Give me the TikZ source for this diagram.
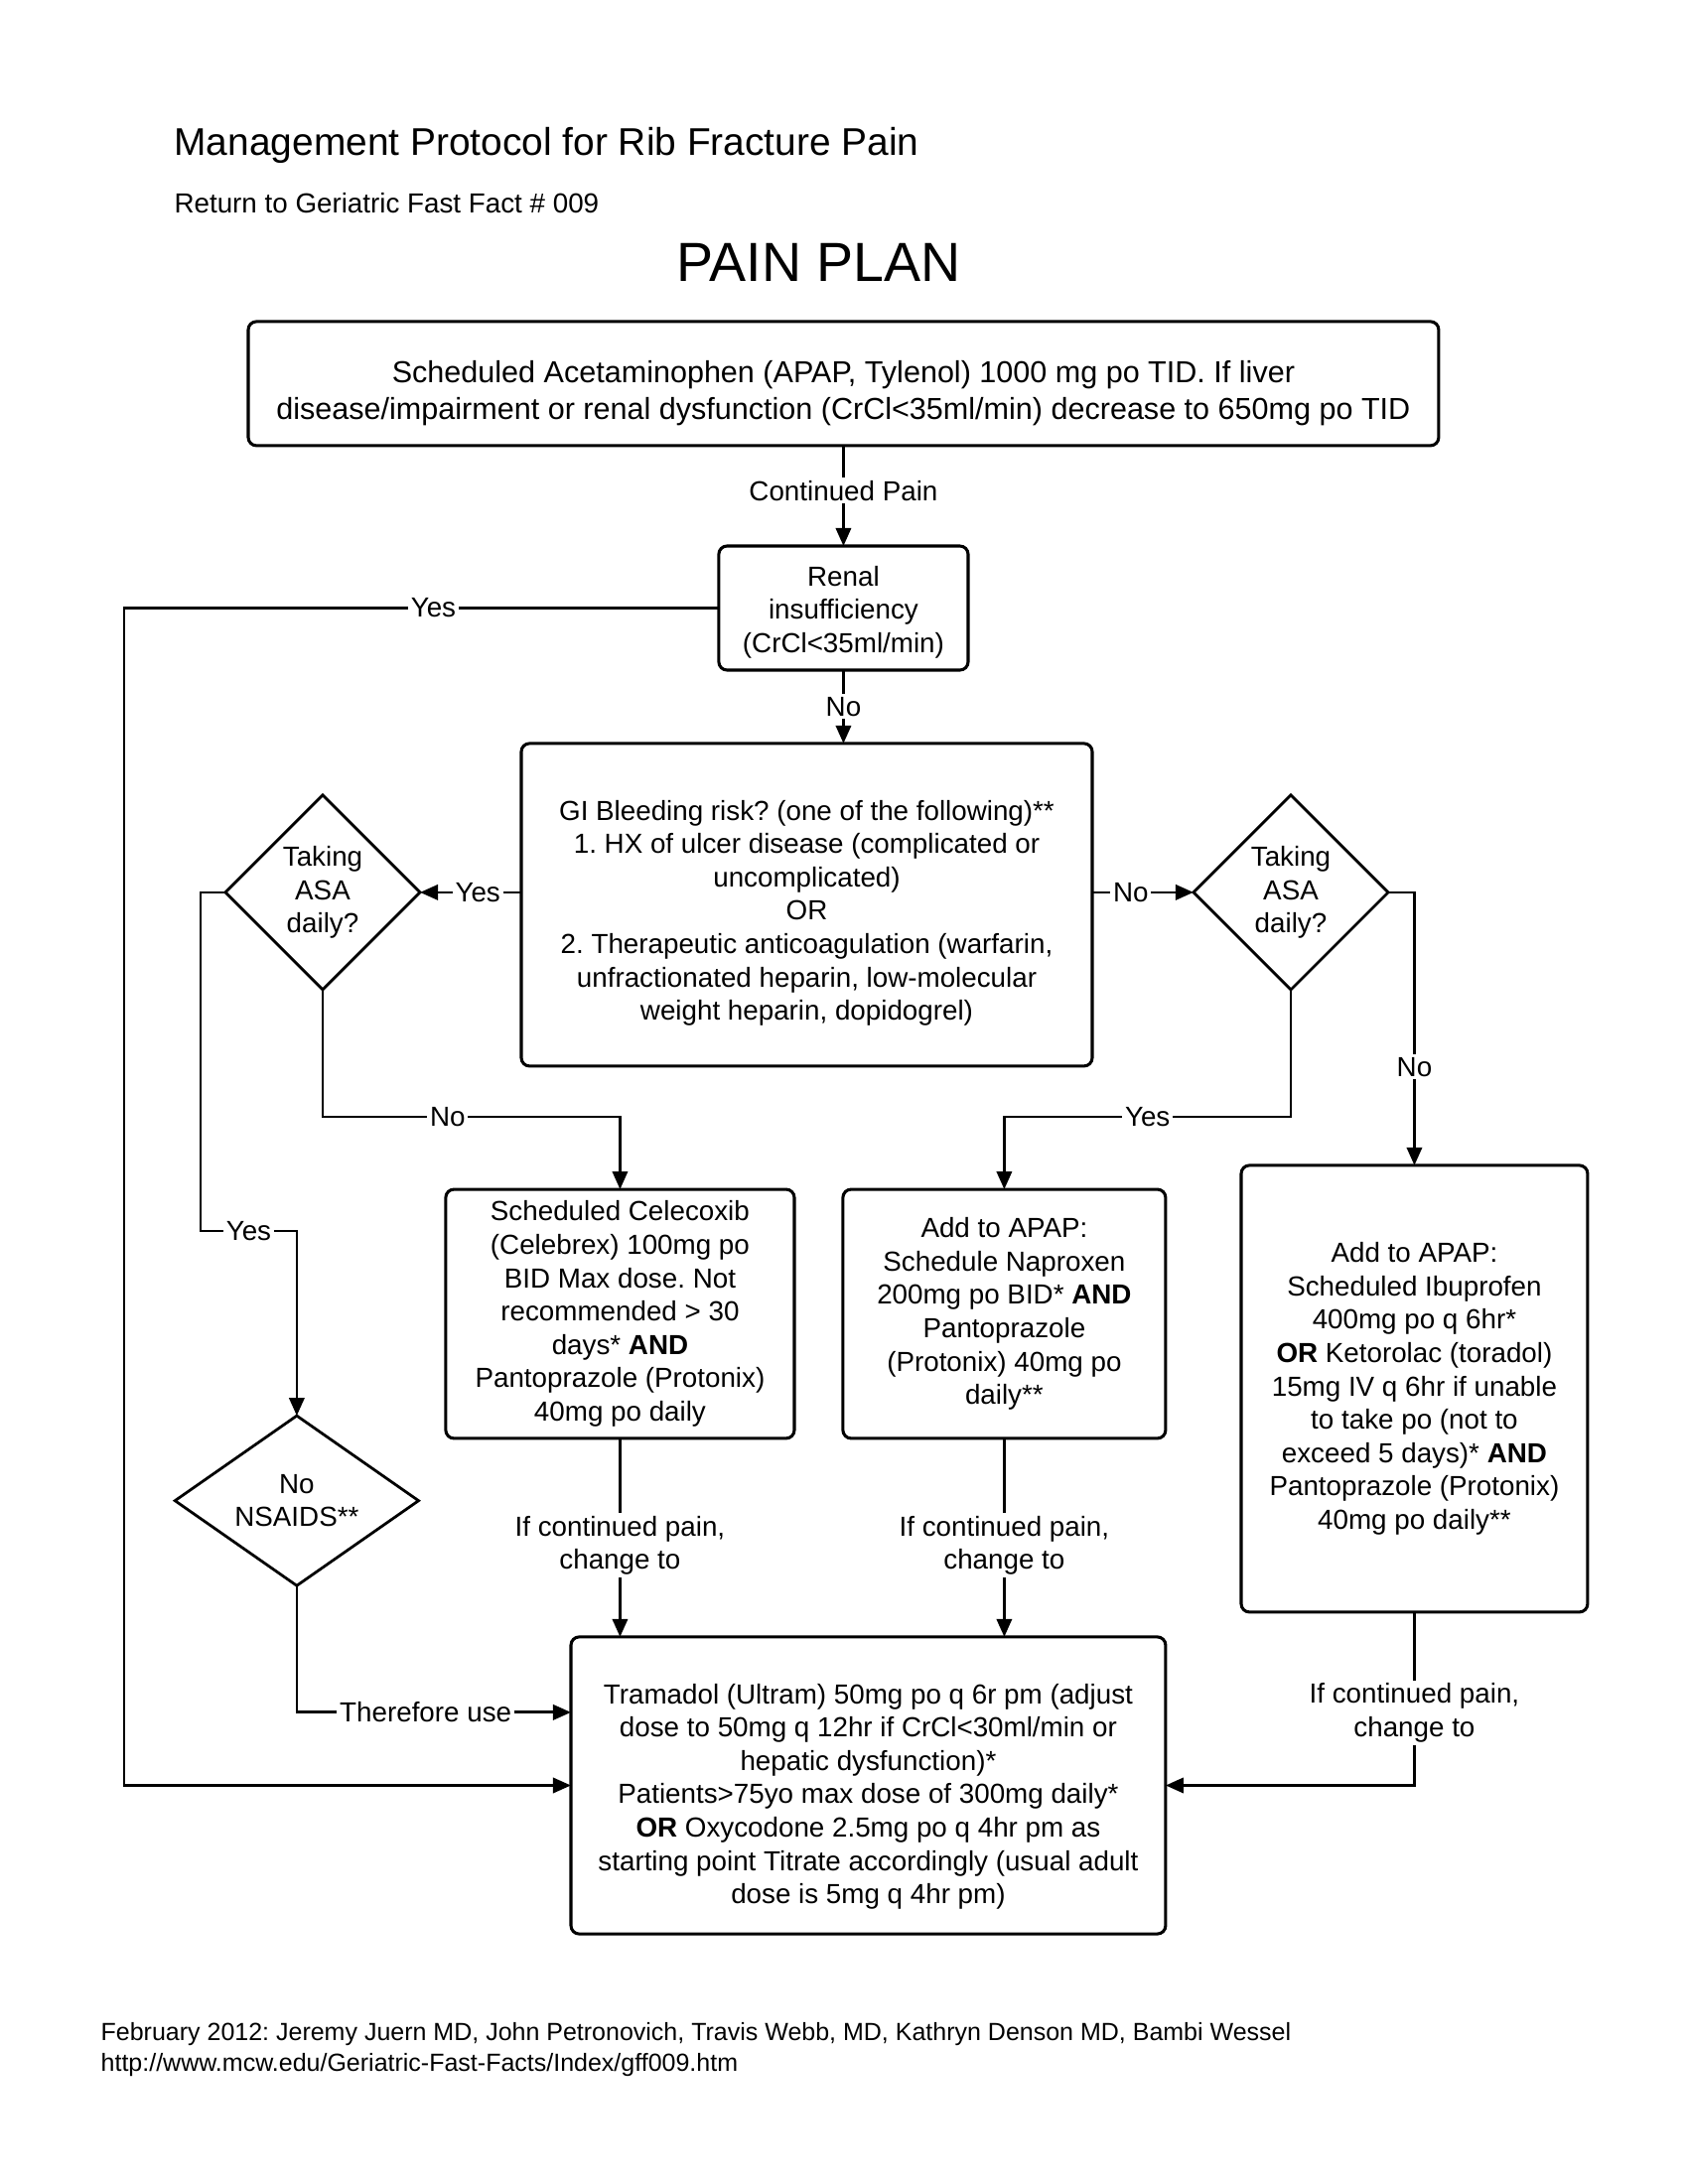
\documentclass[tikz,border=0pt]{standalone}
\usepackage{fontspec}
\setmainfont{Liberation Sans}
\usetikzlibrary{shapes.geometric, arrows.meta, positioning}
\tikzstyle{block} = [rectangle, rounded corners=3pt, draw=black, line width=1.1pt, outer sep=0pt,
    align=center, inner sep=2pt, font=\fontsize{10}{12.1}\selectfont]
\tikzstyle{decision} = [diamond, draw=black, line width=1pt, aspect=1, inner sep=0pt, outer sep=0pt,
    align=center, font=\fontsize{10}{12.1}\selectfont]
\tikzstyle{arrow} = [line width=1pt,-{Triangle[length=6.5pt,width=5.5pt]}]
\tikzstyle{lbl} = [fill=white, inner sep=1pt, align=center, font=\fontsize{10}{12.1}\selectfont]
\newcommand{\padtop}[1]{\rule{0pt}{#1}}

\begin{document}
\frenchspacing
\begin{tikzpicture}
  \useasboundingbox (0,0) rectangle (612pt,-792pt);

  % heading
  \node (title) [anchor=west, inner sep=0pt, font=\fontsize{14}{16}\selectfont] at (63pt,-52.6pt) {Management Protocol for Rib Fracture Pain};
  \node (back)  [anchor=west, inner sep=0pt, font=\fontsize{10}{12}\selectfont] at (63pt,-73.5pt) {Return to Geriatric Fast Fact \# 009};
  \node (plan)  [font=\fontsize{20}{24}\selectfont] at (297pt,-95pt) {PAIN PLAN};

  % boxes
  \node (apap)  [block, minimum width=431.6pt, minimum height=45pt, font=\fontsize{11}{13.1}\selectfont] at (305.8pt,-139.1pt)
    {\padtop{15pt}Scheduled Acetaminophen (APAP, Tylenol) 1000 mg po TID. If liver\\disease/impairment or renal dysfunction (CrCl<35ml/min) decrease to 650mg po TID};
  \node (renal) [block, below=36.4pt of apap, minimum width=90.4pt, minimum height=45pt] {\padtop{10.2pt}Renal\\insufficiency\\(CrCl<35ml/min)};
  \node (gi)    [block, below=26.6pt of renal, xshift=-13.3pt, minimum width=207pt, minimum height=117pt]
    {\padtop{13.3pt}GI Bleeding risk? (one of the following)**\\1. HX of ulcer disease (complicated or\\uncomplicated)\\OR\\2. Therapeutic anticoagulation (warfarin,\\unfractionated heparin, low-molecular\\weight heparin, dopidogrel)};
  \node (ldia)  [decision, left=36.7pt of gi, yshift=4.5pt, minimum width=70.6pt, minimum height=70.6pt] {Taking\\ASA\\daily?};
  \node (rdia)  [decision, right=36.7pt of gi, yshift=4.5pt, minimum width=70.6pt, minimum height=70.6pt] {Taking\\ASA\\daily?};
  \node (cele)  [block, below=44.7pt of gi, xshift=-67.7pt, minimum width=126.4pt, minimum height=90.3pt]
    {Scheduled Celecoxib\\(Celebrex) 100mg po\\BID Max dose. Not\\recommended > 30\\days* \textbf{AND}\\Pantoprazole (Protonix)\\40mg po daily};
  \node (napx)  [block, right=17.6pt of cele, minimum width=117pt, minimum height=90.3pt]
    {Add to APAP:\\Schedule Naproxen\\200mg po BID* \textbf{AND}\\Pantoprazole\\(Protonix) 40mg po\\daily**};
  \node (ibu)   [block, below=63.7pt of rdia, xshift=44.8pt, minimum width=125.6pt, minimum height=162pt]
    {Add to APAP:\\Scheduled Ibuprofen\\400mg po q 6hr*\\\textbf{OR} Ketorolac (toradol)\\15mg IV q 6hr if unable\\to take po (not to\\exceed 5 days)* \textbf{AND}\\Pantoprazole (Protonix)\\40mg po daily**};
  \node (nsaid) [decision, aspect=1.43, below=154.5pt of ldia, xshift=-9.4pt, minimum width=88.3pt, minimum height=61.6pt] {No\\NSAIDS**};
  \node (tram)  [block, below=72pt of cele, xshift=90pt, minimum width=215.6pt, minimum height=107.7pt]
    {\padtop{15.3pt}Tramadol (Ultram) 50mg po q 6r pm (adjust\\dose to 50mg q 12hr if CrCl<30ml/min or\\hepatic dysfunction)*\\Patients>75yo max dose of 300mg daily*\\\textbf{OR} Oxycodone 2.5mg po q 4hr pm as\\starting point Titrate accordingly (usual adult\\dose is 5mg q 4hr pm)};

  % footer
  \node (credit) [anchor=west, inner sep=0pt, font=\fontsize{9}{11}\selectfont] at (36.4pt,-737.7pt) {February 2012: Jeremy Juern MD, John Petronovich, Travis Webb, MD, Kathryn Denson MD, Bambi Wessel};
  \node (link)   [anchor=west, inner sep=0pt, font=\fontsize{9}{11}\selectfont] at (36.4pt,-748.8pt) {http://www.mcw.edu/Geriatric-Fast-Facts/Index/gff009.htm};

  % connectors
  \draw[arrow] (apap) -- node[lbl, pos=0.45] {Continued Pain} (renal);
  \draw[arrow] (renal) -- node[lbl] {No} (renal.south |- gi.north);
  \draw[arrow] (renal.west) -- node[lbl, pos=0.48] {Yes} ([xshift=-215.6pt]renal.west) |- (tram.west);
  \draw[arrow] (gi.west |- ldia.east) -- node[lbl, pos=0.43] {Yes} (ldia.east);
  \draw[arrow] (gi.east |- rdia.west) -- node[lbl, pos=0.38] {No} (rdia.west);
  \draw[arrow] (ldia.south) -- ++(0,-46.1pt) -| node[lbl, pos=0.21] {No} (cele.north);
  \draw[arrow] (rdia.south) -- ++(0,-46.1pt) -| node[lbl, pos=0.25] {Yes} (napx.north);
  \draw[arrow] (rdia.east) -| node[lbl, pos=0.82] {No} (ibu.north);
  \draw[arrow] (ldia.west) -- ++(-9pt,0) |- node[lbl, pos=0.75] {Yes} ([yshift=67pt]nsaid.north) -- (nsaid.north);
  \draw[arrow] (nsaid.south) |- node[lbl, pos=0.735] {Therefore use} ([yshift=26.5pt]tram.west);
  \draw[arrow] (cele) -- node[lbl, pos=0.54] {If continued pain,\\change to} (cele.south |- tram.north);
  \draw[arrow] (napx) -- node[lbl, pos=0.54] {If continued pain,\\change to} (napx.south |- tram.north);
  \draw[arrow] (ibu.south) |- node[lbl, pos=0.29] {If continued pain,\\change to} (tram.east);
\end{tikzpicture}
\end{document}
